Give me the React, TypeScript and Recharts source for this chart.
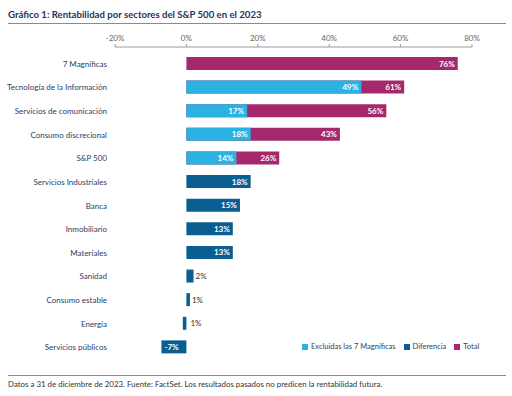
import {
  BarChart,
  Bar,
  XAxis,
  YAxis,
  LabelList,
} from "recharts";

const SECTORS = [
  "7 Magníficas",
  "Tecnología de la Información",
  "Servicios de comunicación",
  "Consumo discrecional",
  "S&P 500",
  "Servicios Industriales",
  "Banca",
  "Inmobiliario",
  "Materiales",
  "Sanidad",
  "Consumo estable",
  "Energía",
  "Servicios públicos",
];

const EXCL_7 = [null, 49, 17, 18, 14, null, null, null, null, null, null, null, null];
const TOTAL = [76, 61, 56, 43, 26, null, null, null, null, null, null, null, null];
const DIFERENCIA = [null, null, null, null, null, 18, 15, 13, 13, 2, 1, -1, -7];
const DIF_LABELS = ["", "", "", "", "", "18%", "15%", "13%", "13%", "2%", "1%", "1%", "-7%"];

const X_TICKS = [-20, 0, 20, 40, 60, 80];

const COLORS = {
  excl: "#29b2e2",
  dif: "#0b5e92",
  total: "#a6286c",
};

const FONT = "Lato, 'Open Sans', sans-serif";
const NAVY = "#1d3461";

const data = SECTORS.map((name, i) => ({
  name,
  excl: EXCL_7[i],
  total: TOTAL[i],
  dif: DIFERENCIA[i],
  difLabel: DIF_LABELS[i],
}));

function InsideLabel(props: any) {
  const { x, y, width, height, value } = props;
  if (value == null || value === "") return null;
  return (
    <text
      x={x + width - 3}
      y={y + height / 2}
      dy={3}
      textAnchor="end"
      fill="#fff"
      fontSize={8}
      fontWeight={700}
      fontFamily={FONT}
    >
      {`${value}%`}
    </text>
  );
}

// bars wider than ~20px get a white label inside, small ones a dark label to the right
function DifLabel(props: any) {
  const { x, y, width, height, value } = props;
  if (value == null || value === "") return null;
  const left = Math.min(x, x + width);
  const right = Math.max(x, x + width);
  const cy = y + height / 2;
  const big = right - left > 20;
  let tx = right - 3;
  let anchor = "end";
  if (big && width < 0) {
    tx = left + 3;
    anchor = "start";
  } else if (!big) {
    tx = width < 0 ? x + 4 : right + 2;
    anchor = "start";
  }
  return (
    <text
      x={tx}
      y={cy}
      dy={3}
      textAnchor={anchor}
      fill={big ? "#fff" : "#333"}
      fontSize={8}
      fontWeight={big ? 700 : 400}
      fontFamily={FONT}
    >
      {value}
    </text>
  );
}

function CategoryTick(props: any) {
  const { x, y, payload } = props;
  return (
    <text x={x} y={y} dy={3} textAnchor="end" fill="#2c3d66" fontSize={8} fontFamily={FONT}>
      {payload.value}
    </text>
  );
}

function ChartLegend() {
  const items = [
    { label: "Excluidas las 7 Magníficas", color: COLORS.excl },
    { label: "Diferencia", color: COLORS.dif },
    { label: "Total", color: COLORS.total },
  ];
  return (
    <div
      style={{
        position: "absolute",
        left: 302,
        top: 342,
        display: "flex",
        gap: 8,
        fontFamily: FONT,
        fontSize: 7.5,
        color: "#33415e",
      }}
    >
      {items.map((it) => (
        <span key={it.label} style={{ display: "flex", alignItems: "center", gap: 3 }}>
          <span style={{ width: 6, height: 6, background: it.color, display: "inline-block" }} />
          {it.label}
        </span>
      ))}
    </div>
  );
}

export default function App() {
  return (
    <div
      style={{
        position: "absolute",
        left: 0,
        top: 0,
        width: 512,
        height: 396,
        background: "#fff",
        fontFamily: FONT,
      }}
    >
      <div
        style={{
          position: "absolute",
          left: 8,
          top: 9,
          fontSize: 9.6,
          fontWeight: 700,
          color: NAVY,
        }}
      >
        Gráfico 1: Rentabilidad por sectores del S&P 500 en el 2023
      </div>
      <div
        style={{
          position: "absolute",
          left: 8,
          top: 23,
          width: 498,
          height: 1,
          background: "#8a8a8a",
        }}
      />
      <BarChart
        width={512}
        height={396}
        data={data}
        layout="vertical"
        margin={{ top: 27, right: 40, bottom: 37, left: 8 }}
        barSize={13}
        barGap={-13}
        style={{ position: "absolute", left: 0, top: 0 }}
      >
        <XAxis
          type="number"
          orientation="top"
          domain={[-20, 80]}
          ticks={X_TICKS}
          tickFormatter={(v: number) => `${v}%`}
          height={20}
          tickSize={3}
          tickMargin={3}
          stroke="#9a9a9a"
          tick={{ fill: "#666", fontSize: 8, fontFamily: FONT }}
        />
        <YAxis
          type="category"
          dataKey="name"
          width={107}
          axisLine={false}
          tickLine={false}
          padding={{ top: 5, bottom: 0 }}
          tick={<CategoryTick />}
          interval={0}
        />
        <Bar dataKey="total" name="Total" fill={COLORS.total} isAnimationActive={false}>
          <LabelList dataKey="total" content={InsideLabel} />
        </Bar>
        <Bar dataKey="excl" name="Excluidas las 7 Magníficas" fill={COLORS.excl} isAnimationActive={false}>
          <LabelList dataKey="excl" content={InsideLabel} />
        </Bar>
        <Bar dataKey="dif" name="Diferencia" fill={COLORS.dif} isAnimationActive={false}>
          <LabelList dataKey="difLabel" content={DifLabel} />
        </Bar>
      </BarChart>
      <ChartLegend />
      <div
        style={{
          position: "absolute",
          left: 8,
          top: 375,
          width: 498,
          height: 1,
          background: "#8a8a8a",
        }}
      />
      <div
        style={{
          position: "absolute",
          left: 8,
          top: 379,
          fontSize: 7.9,
          color: "#333",
        }}
      >
        Datos a 31 de diciembre de 2023. Fuente: FactSet. Los resultados pasados no predicen la rentabilidad futura.
      </div>
    </div>
  );
}
